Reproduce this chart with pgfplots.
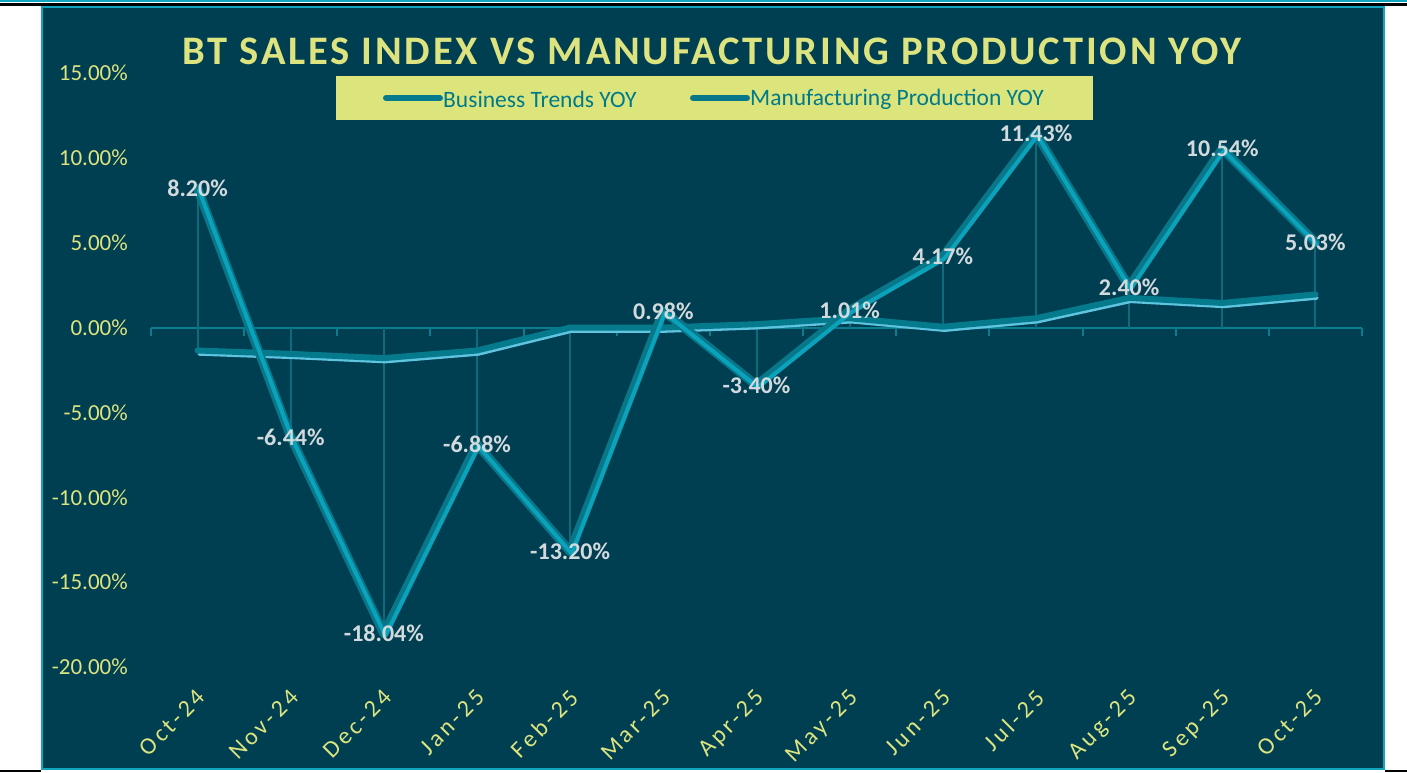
\documentclass[border=0pt]{standalone}
\usepackage{pgfplots}
\usepackage{pgfplotstable}
\pgfplotsset{compat=1.18}
\usepackage{fontspec}
\setmainfont{Carlito}
\newfontfamily\titlefont[LetterSpace=7]{Carlito}
\newfontfamily\xfont[LetterSpace=14]{Carlito}
\definecolor{bgcol}{HTML}{003F51}
\definecolor{bordercol}{HTML}{12A5BF}
\definecolor{ylw}{HTML}{DDE47F}
\definecolor{legfill}{HTML}{DCE57C}
\definecolor{legtext}{HTML}{007A8A}
\definecolor{mpteal}{HTML}{087789}
\definecolor{mpcyan}{HTML}{0BA3BB}
\definecolor{btteal}{HTML}{067A8D}
\definecolor{btlight}{HTML}{5EC4E0}
\definecolor{dropcol}{HTML}{0E6B7D}
\definecolor{lblcol}{HTML}{D3DADD}
\definecolor{axcol}{HTML}{0A7C90}
\pgfplotstableread{
x bt mp lbl
0 -1.35 8.20 8.20
1 -1.55 -6.44 -6.44
2 -1.80 -18.04 -18.04
3 -1.35 -6.88 -6.88
4 0.00 -13.20 -13.20
5 0.00 0.98 0.98
6 0.20 -3.40 -3.40
7 0.55 1.01 1.01
8 0.05 4.17 4.17
9 0.55 11.43 11.43
10 1.75 2.40 2.40
11 1.45 10.54 10.54
12 1.95 5.03 5.03
}\datatable
\begin{document}
\begin{tikzpicture}[x=1pt,y=1pt]
\useasboundingbox (0,0) rectangle (1407,772);
% frame decorations
\fill[bordercol] (0,770) rectangle (1407,772);
\fill[black] (0,766) rectangle (1407,769);
\fill[black] (0,0) rectangle (41,2);
\fill[black] (1385,0) rectangle (1407,2);
\fill[bgcol] (41,2) rectangle (1385,766);
\draw[bordercol, line width=2pt] (42,3) rectangle (1384,765);
% title
\node[font={\titlefont\bfseries\fontsize{40.5}{46}\selectfont}, text=ylw] at (712,721) {BT SALES INDEX VS MANUFACTURING PRODUCTION YOY};
% legend
\fill[legfill] (336,652) rectangle (1093,696);
\draw[btteal, line width=6pt, line cap=round] (386,674) -- (440,674);
\node[anchor=west, inner sep=0pt, text=legtext, font=\fontsize{23.5}{27}\selectfont] at (443,673) {Business Trends YOY};
\draw[mpteal, line width=6pt, line cap=round] (693,674) -- (747,674);
\node[anchor=west, inner sep=0pt, text=legtext, font=\fontsize{23.5}{27}\selectfont] at (750,673) {Manufacturing Production YOY};
\begin{axis}[
  at={(151pt,105pt)}, anchor=south west,
  scale only axis, width=1211pt, height=594pt,
  xmin=-0.5, xmax=12.5, ymin=-20, ymax=15,
  axis line style={draw=none}, major tick length=0pt,
  clip=false,
  ytick={-20,-15,-10,-5,0,5,10,15},
  yticklabels={-20.00\%,-15.00\%,-10.00\%,-5.00\%,0.00\%,5.00\%,10.00\%,15.00\%},
  yticklabel style={anchor=east, inner sep=0pt, xshift=-23pt, text=ylw, font=\fontsize{23}{27}\selectfont},
  xtick={0,...,12},
  xticklabels={Oct-24,Nov-24,Dec-24,Jan-25,Feb-25,Mar-25,Apr-25,May-25,Jun-25,Jul-25,Aug-25,Sep-25,Oct-25},
  xticklabel style={inner sep=0pt, xshift=-2pt, yshift=-21pt, rotate=45, anchor=north east, text=ylw, font={\xfont\fontsize{24}{28}\selectfont}},
]
% x axis line with ticks
\draw[axcol, line width=2pt] (axis cs:-0.5,0) -- (axis cs:12.5,0);
\pgfplotsinvokeforeach{-0.5,0.5,...,12.5}{
  \draw[axcol, line width=2pt] (axis cs:#1,0) -- ++(0pt,-8pt);
}
% drop lines
\addplot[ycomb, dropcol, line width=2pt] table[x=x,y=mp]{\datatable};
\addplot[ycomb, dropcol, line width=2pt] table[x=x,y=bt]{\datatable};
% Business Trends YOY
\addplot[btlight, line width=3.5pt, line join=round, line cap=round, xshift=1.5pt, yshift=-3.5pt] table[x=x,y=bt]{\datatable};
\addplot[btteal, line width=6pt, line join=round, line cap=round] table[x=x,y=bt]{\datatable};
% Manufacturing Production YOY
\addplot[mpteal, line width=9pt, line join=round, line cap=round] table[x=x,y=mp]{\datatable};
\addplot[mpcyan, line width=4pt, line join=round, line cap=round, xshift=1.5pt, yshift=-2pt] table[x=x,y=mp]{\datatable};
% labels
\addplot[draw=none, nodes near coords={\pgfplotspointmeta\%}, point meta=explicit symbolic,
  every node near coord/.style={anchor=center, inner sep=0pt, text=lblcol, font={\bfseries\fontsize{24}{28}\selectfont}}]
  table[x=x,y=mp,meta=lbl]{\datatable};
\end{axis}
\end{tikzpicture}
\end{document}
